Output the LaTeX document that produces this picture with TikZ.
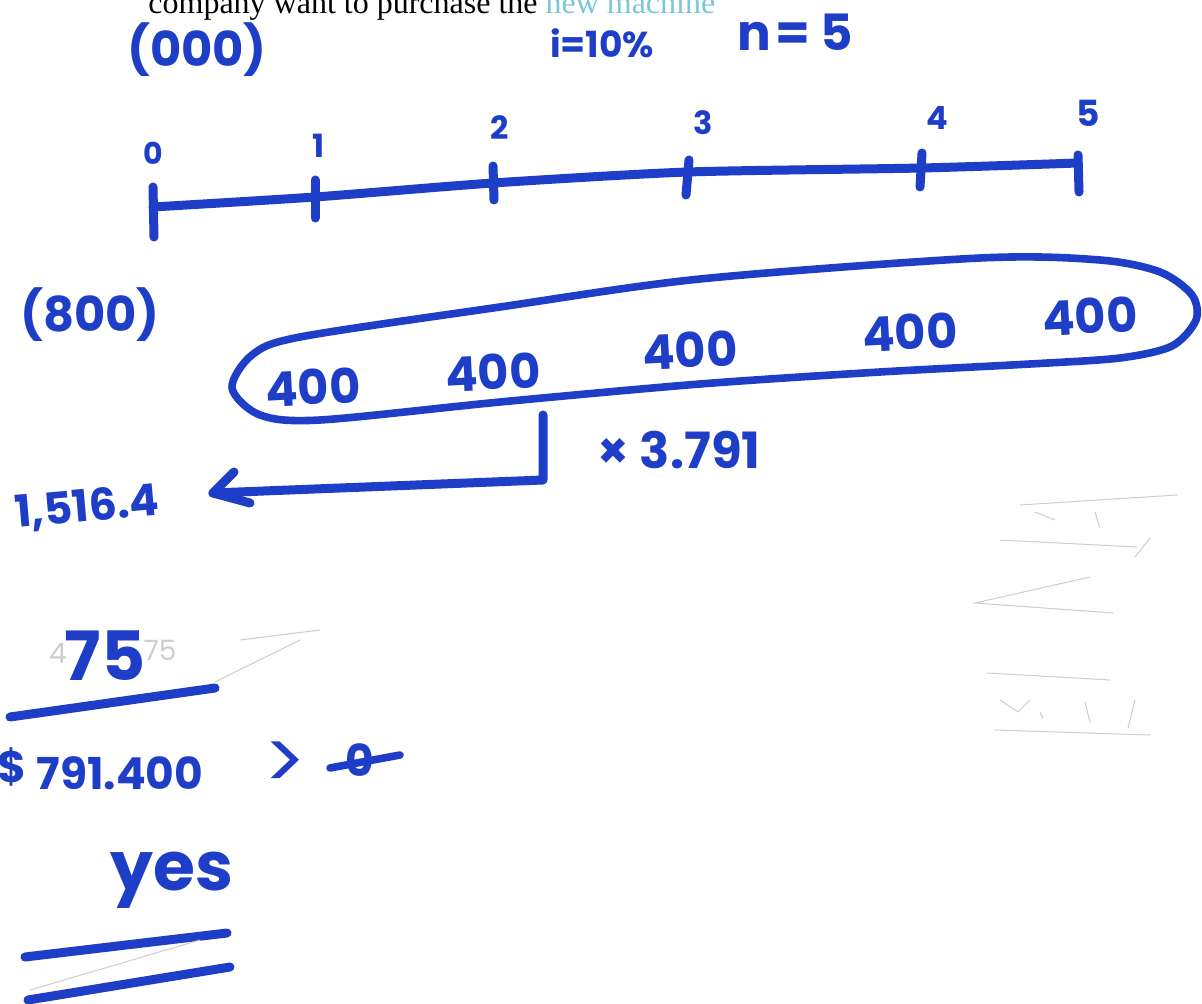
\documentclass[tikz,border=0pt]{standalone}
\usepackage{fontspec}
\setmainfont{Poppins}
\newfontfamily\printfont{Liberation Serif}
\usetikzlibrary{arrows.meta}
\definecolor{marker}{RGB}{30,62,200}
\definecolor{pencil}{RGB}{205,205,205}
\definecolor{printcyan}{RGB}{120,200,215}
\begin{document}
\begin{tikzpicture}[x=0.5pt,y=-0.5pt,
  hw/.style={text=marker, inner sep=0pt, font=\bfseries\fontsize{#1}{#1}\selectfont},
  mk/.style={draw=marker, line width=4.5pt, line cap=round, line join=round},
  mkthin/.style={draw=marker, line width=3.8pt, line cap=round, line join=round},
  pen/.style={draw=pencil, line width=0.5pt, line cap=round}]
\useasboundingbox (0,0) rectangle (1202,1004);
\clip (0,0) rectangle (1202,1004);
\fill[white] (0,0) rectangle (1202,1004);

% printed text cut at the top
\node[anchor=base west, inner sep=0pt, font=\printfont\fontsize{16pt}{16pt}\selectfont] (printed) at (148,14)
  {company want to purchase the \textcolor{printcyan}{new machine}};

% header
\node[hw=24pt] (cost) at (197,50) {(000)};
\node[hw=18pt] (rate) at (602,43) {i=10\%};
\node[hw=25pt] (nper) at (795,32) {n\kern2pt=\kern5pt5};

% timeline
\draw[mk] plot[smooth, tension=0.4] coordinates {(153,207) (315,197) (493,183) (688,172) (922,168) (1078,163)};
\draw[mk] (153,187) -- (154,237);
\draw[mk] (315,180) -- (315,218);
\draw[mk] (493,166) -- (494,200);
\draw[mk] (689,160) -- (686,195);
\draw[mk] (922,153) -- (920,187);
\draw[mk] (1078,155) -- (1079,192);
\node[hw=15pt] (t0) at (153,153) {0};
\node[hw=16pt] (t1) at (319,146) {1};
\node[hw=16pt] (t2) at (500,128) {2};
\node[hw=16pt] (t3) at (703,123) {3};
\node[hw=16pt] (t4) at (937,118) {4};
\node[hw=18pt] (t5) at (1088,113) {5};

% initial outlay
\node[hw=24pt] (outlay) at (90,315) {(800)};

% loop around cash flows
\draw[mkthin] plot[smooth cycle, tension=0.5] coordinates {
  (232,388) (252,355) (300,337) (500,307) (700,279) (980,258) (1100,260)
  (1160,272) (1192,295) (1196,320) (1172,346) (1120,358) (1030,364) (880,372)
  (700,384) (500,402) (320,420) (260,415)};
\node[hw=24pt, rotate=3] (c1) at (313,387) {400};
\node[hw=24pt, rotate=3] (c2) at (493,372) {400};
\node[hw=24pt, rotate=3] (c3) at (690,350) {400};
\node[hw=24pt, rotate=3] (c4) at (910,332) {400};
\node[hw=24pt, rotate=3] (c5) at (1090,316) {400};

% bracket and arrow to present value
\node[hw=25pt] (factor) at (679,450) {× 3.791};
\node[hw=22pt, rotate=5] (pv) at (87,508) {1,516.4};
\coordinate (brtop) at (543,415);
\coordinate (brcorner) at (543,480);
\coordinate (tip) at (213,493);
\coordinate (wingup) at (234,472);
\coordinate (winglow) at (250,503);
\draw[mk] (brtop) -- (brcorner) -- (tip);
\draw[mk] (wingup) -- (tip) -- (winglow);

% 75 and underline
\node[text=pencil, inner sep=0pt, font=\fontsize{14pt}{14pt}\selectfont] (ghost4) at (58,653) {4};
\node[text=pencil, inner sep=0pt, font=\fontsize{14pt}{14pt}\selectfont] (ghost75) at (160,650) {75};
\node[hw=34pt] (seventyfive) at (105,656) {75};
\draw[mk] (10,717) -- (215,688);
\draw[pen] (215,682) -- (300,640) (240,640) -- (320,630);

% result
\node[hw=22pt] (dollar) at (12,767) {\$};
\node[hw=22pt] (npv) at (120,773) {791.400};
\node[hw=40pt, font=\mdseries\fontsize{40pt}{40pt}\selectfont] (gt) at (285,766) {>};
\node[hw=22pt] (zero) at (360,760) {0};
\draw[mkthin] (330,768) -- (400,755);

% answer
\node[hw=34pt, anchor=base] (answer) at (172,890) {yes};
\draw[mk] (25,957) -- (227,933);
\draw[mk] (28,1000) -- (230,967);
\draw[pen] (30,990) -- (200,940);

% faint pencil marks on the right
\draw[pen] (1020,505) -- (1177,495);
\draw[pen] (1000,540) -- (1137,547);
\draw[pen] (1150,538) -- (1135,557);
\draw[pen] (1035,512) -- (1055,520) (1095,512) -- (1100,528);
\draw[pen] (1090,577) -- (975,603) -- (1113,613);
\draw[pen] (987,673) -- (1110,680);
\draw[pen] (1000,700) -- (1018,712) -- (1030,700) (1040,712) -- (1043,718) (1085,702) -- (1090,722) (1135,700) -- (1128,728);
\draw[pen] (995,730) -- (1150,735);
\end{tikzpicture}
\end{document}
